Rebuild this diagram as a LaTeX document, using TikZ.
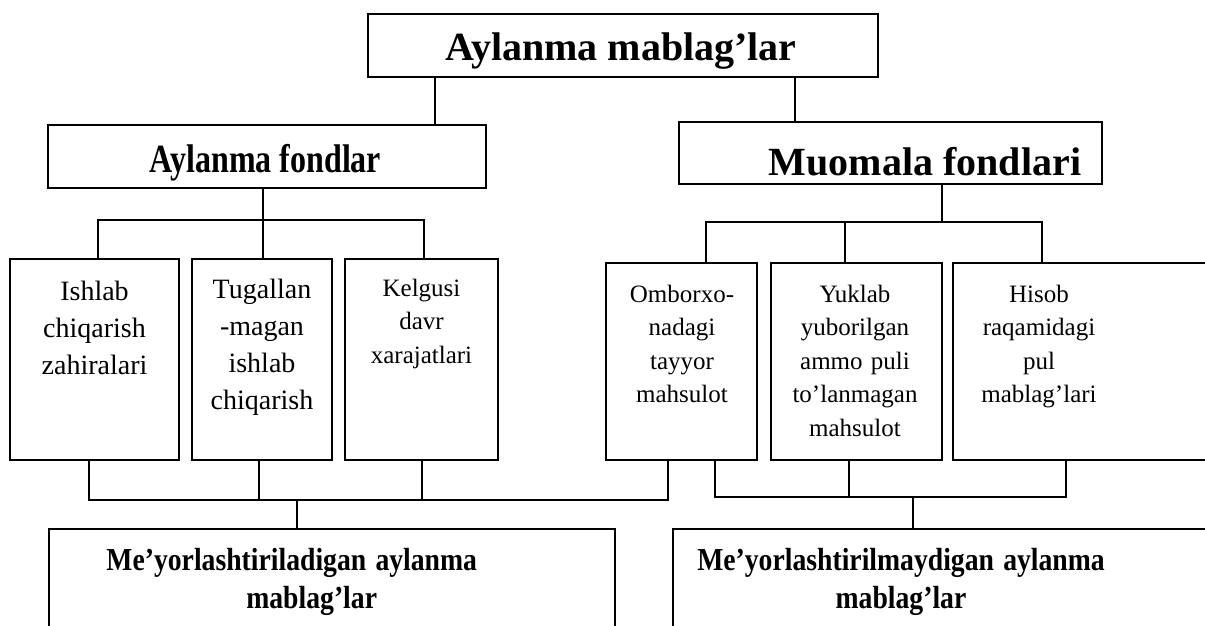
\documentclass[tikz,border=0pt]{standalone}
\usepackage{fontspec}
\setmainfont{Liberation Serif}
\usetikzlibrary{calc}
\begin{document}
\begin{tikzpicture}[x=1pt,y=-1pt,
  box/.style={draw, line width=1.8pt, inner sep=0pt, rectangle},
  wire/.style={line width=1.4pt},
  bigtitle/.style={font=\fontsize{40}{44}\selectfont\bfseries, inner sep=0pt, anchor=base},
  cellA/.style={font=\fontsize{28}{37}\selectfont, align=center, text width=160pt, inner sep=0pt, anchor=base},
  cellB/.style={font=\fontsize{25}{33.6}\selectfont, align=center, text width=160pt, inner sep=0pt, anchor=base},
  foot/.style={font=\fontsize{32}{38}\selectfont\bfseries, align=center, text width=560pt, inner sep=0pt, anchor=base}
]
\useasboundingbox (0,0) rectangle (1205,625);
\begin{scope}
\clip (0,0) rectangle (1205,625);

% top level
\node[box, minimum width=510pt, minimum height=63pt] (T) at (623,45.5) {};
\node[bigtitle] (tT) at (621,60) {Aylanma mablag’lar};

% second level
\node[box, minimum width=438pt, minimum height=63pt] (AF) at (267,156.5) {};
\node[bigtitle] (tAF) at (265.5,172) {\scalebox{0.8}[1]{Aylanma fondlar}};
\node[box, minimum width=423pt, minimum height=62pt] (MF) at (890.5,153) {};
\node[bigtitle] (tMF) at (925,175) {Muomala fondlari};

% third level
\node[box, minimum width=169pt, minimum height=201pt] (c1) at (94.5,359.5) {};
\node[box, minimum width=140pt, minimum height=201pt] (c2) at (262,359.5) {};
\node[box, minimum width=153pt, minimum height=201pt] (c3) at (421.5,359.5) {};
\node[box, minimum width=151pt, minimum height=197pt] (c4) at (681.5,361.5) {};
\node[box, minimum width=171pt, minimum height=197pt] (c5) at (856.5,361.5) {};
\node[box, minimum width=272pt, minimum height=197pt] (c6) at (1089,361.5) {};

\node[cellA] (t1) at (94.5,300) {Ishlab\\chiqarish\\zahiralari};
\node[cellA] (t2) at (262,298) {Tugallan\\-magan\\ishlab\\chiqarish};
\node[cellB] (t3) at (421.5,296) {Kelgusi\\davr\\xarajatlari};
\node[cellB] (t4) at (682,302) {Omborxo-\\nadagi\\tayyor\\mahsulot};
\node[cellB] (t5) at (855,302) {Yuklab\\yuborilgan\\ammo puli\\to’lanmagan\\mahsulot};
\node[cellB] (t6) at (1039,302) {Hisob\\raqamidagi\\pul\\mablag’lari};

% bottom level
\node[box, minimum width=566pt, minimum height=171pt] (B1) at (332,614.5) {};
\node[box, minimum width=567pt, minimum height=171pt] (B2) at (956.5,614.5) {};
\node[foot] (t7) at (291.7,570) {\scalebox{0.865}[1]{Me’yorlashtiriladigan aylanma}\\\hspace*{40pt}\scalebox{0.865}[1]{mablag’lar}};
\node[foot] (t8) at (901,570) {\scalebox{0.865}[1]{Me’yorlashtirilmaydigan aylanma}\\\scalebox{0.865}[1]{mablag’lar}};

% connectors: top to second level
\coordinate (tL) at ([xshift=-188pt]T.south);
\coordinate (tR) at ([xshift=172pt]T.south);
\draw[wire] (tL) -- (tL |- AF.north);
\draw[wire] (tR) -- (tR |- MF.north);

% second level to cells
\coordinate (afBus) at (263,220);
\coordinate (mfBus) at (942,222);
\draw[wire] (AF.south -| afBus) -- (afBus);
\draw[wire] ([xshift=3.5pt]c1.north) |- (afBus);
\draw[wire] (c2.north -| afBus) -- (afBus);
\draw[wire] ([xshift=2.5pt]c3.north) |- (afBus);
\draw[wire] (MF.south -| mfBus) -- (mfBus);
\draw[wire] ([xshift=24.5pt]c4.north) |- (mfBus);
\draw[wire] ([xshift=-11.5pt]c5.north) |- (mfBus);
\draw[wire] ([xshift=-47pt]c6.north) |- (mfBus);

% cells to bottom level
\coordinate (lBus) at (297,500);
\coordinate (rBus) at (913,497);
\draw[wire] ([xshift=-5.5pt]c1.south) |- (lBus);
\draw[wire] ([xshift=-3pt]c2.south) |- (lBus);
\draw[wire] ([xshift=0.5pt]c3.south) |- (lBus);
\draw[wire] ([xshift=-13.5pt]c4.south) |- (lBus);
\draw[wire] (lBus) -- (lBus |- B1.north);
\draw[wire] ([xshift=33.5pt]c4.south) |- (rBus);
\draw[wire] ([xshift=-7.5pt]c5.south) |- (rBus);
\draw[wire] ([xshift=-23pt]c6.south) |- (rBus);
\draw[wire] (rBus) -- (rBus |- B2.north);
\end{scope}
\end{tikzpicture}
\end{document}
